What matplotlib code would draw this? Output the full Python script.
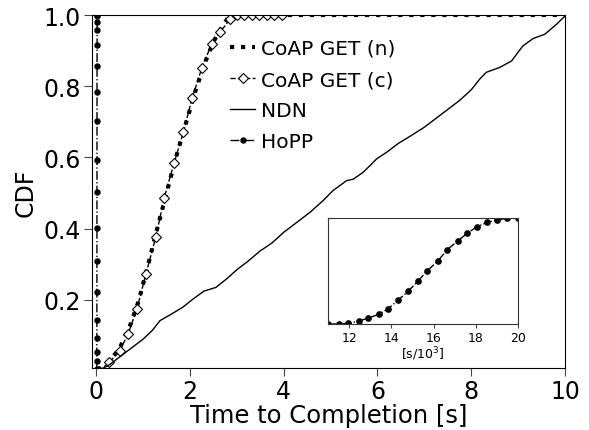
import numpy as np
import matplotlib
matplotlib.use('Agg')
import matplotlib.pyplot as plt

# HoPP completion times in ms (same data drawn in seconds in main plot)
hopp_ms = [11.0, 11.5, 11.97, 12.45, 12.9, 13.4, 13.85, 14.3, 14.8, 15.25,
           15.7, 16.2, 16.65, 17.15, 17.6, 18.05, 18.55, 19.0, 19.5, 20.0]
hopp_cdf = [0.0, 0.0, 0.006, 0.029, 0.054, 0.092, 0.143, 0.222, 0.308, 0.403,
            0.502, 0.594, 0.702, 0.784, 0.857, 0.917, 0.959, 0.981, 0.997, 1.0]

# CoAP GET (n)
coap_n_t = [0.05, 0.3, 0.5, 0.7, 0.9, 1.1, 1.3, 1.5, 1.7, 1.9, 2.1, 2.3, 2.5,
            2.7, 2.85, 10.0]
coap_n_cdf = [0.0, 0.03, 0.065, 0.12, 0.195, 0.295, 0.4, 0.5, 0.6, 0.69, 0.78,
              0.86, 0.925, 0.97, 1.0, 1.0]

# CoAP GET (c)
coap_c_t = [0.05, 0.28, 0.505, 0.68, 0.87, 1.06, 1.27, 1.45, 1.66, 1.86, 2.05,
            2.25, 2.46, 2.64, 2.85, 3.0, 3.16, 3.32, 3.48, 3.64, 3.8, 3.96]
coap_c_cdf = [0.0, 0.025, 0.058, 0.105, 0.175, 0.273, 0.376, 0.486, 0.584,
              0.672, 0.768, 0.85, 0.918, 0.951, 0.988, 1.0, 1.0, 1.0, 1.0,
              1.0, 1.0, 1.0]

# NDN
ndn_t = [0.0, 0.25, 0.5, 0.75, 1.0, 1.2, 1.36, 1.6, 1.85, 2.07, 2.3, 2.55,
         2.78, 3.0, 3.25, 3.49, 3.75, 4.0, 4.3, 4.56, 4.84, 5.05, 5.34, 5.48,
         5.69, 5.87, 5.98, 6.2, 6.45, 6.7, 7.0, 7.25, 7.5, 7.75, 8.0, 8.18,
         8.32, 8.61, 8.86, 9.1, 9.32, 9.57, 9.82, 10.0]
ndn_cdf = [0.0, 0.015, 0.04, 0.065, 0.09, 0.115, 0.142, 0.16, 0.18, 0.203,
           0.225, 0.235, 0.259, 0.285, 0.31, 0.337, 0.36, 0.39, 0.42, 0.446,
           0.479, 0.507, 0.535, 0.539, 0.558, 0.581, 0.596, 0.615, 0.64, 0.66,
           0.685, 0.71, 0.735, 0.76, 0.79, 0.82, 0.839, 0.853, 0.871, 0.913,
           0.934, 0.946, 0.974, 0.997]

hopp_s = np.array(hopp_ms) / 1000.0

fig = plt.figure(figsize=(5.89, 4.31), dpi=100)
ax = fig.add_axes([92/589, 62/431, 473/589, 353/431])

ax.plot(coap_n_t, coap_n_cdf, color='k', linestyle=':', linewidth=3,
        label='CoAP GET (n)')
ax.plot(coap_c_t, coap_c_cdf, color='k', linestyle='--', linewidth=1,
        marker='D', markersize=4.6, markerfacecolor='white',
        markeredgecolor='k', markeredgewidth=0.8, label='CoAP GET (c)')
ax.plot(ndn_t, ndn_cdf, color='k', linestyle='-', linewidth=1, label='NDN')
ax.plot(hopp_s, hopp_cdf, color='k', linestyle='-.', linewidth=1,
        marker='o', markersize=3.6, label='HoPP')

ax.set_xlim(-0.09, 10)
ax.set_ylim(0.009, 1.0)
ax.set_xticks([0, 2, 4, 6, 8, 10])
ax.set_yticks([0.2, 0.4, 0.6, 0.8, 1.0])
ax.tick_params(labelsize=17, direction='out', length=6, color='#444444',
               pad=2)
ax.set_xlabel('Time to Completion [s]', fontsize=17.5, labelpad=0)
ax.set_ylabel('CDF', fontsize=17)
ax.legend(loc='upper left', bbox_to_anchor=(0.275, 0.955), frameon=False,
          fontsize=14.5, handlelength=1.25, handletextpad=0.3,
          labelspacing=0.6, borderaxespad=0)

# inset with HoPP in ms
axi = fig.add_axes([328/589, 106/431, 190/589, 106/431])
axi.plot(hopp_ms, hopp_cdf, color='k', linestyle='-.', linewidth=1,
         marker='o', markersize=3.8)
axi.set_xlim(11, 20)
axi.set_ylim(0, 1.0)
axi.set_xticks([12, 14, 16, 18, 20])
axi.set_yticks([])
axi.tick_params(labelsize=9, direction='out', length=3, color='#444444',
                pad=2)
axi.set_xlabel('[s/10$^3$]', fontsize=9, labelpad=0)
for s in axi.spines.values():
    s.set_color('#333333')

fig.savefig('out.png', dpi=100)
